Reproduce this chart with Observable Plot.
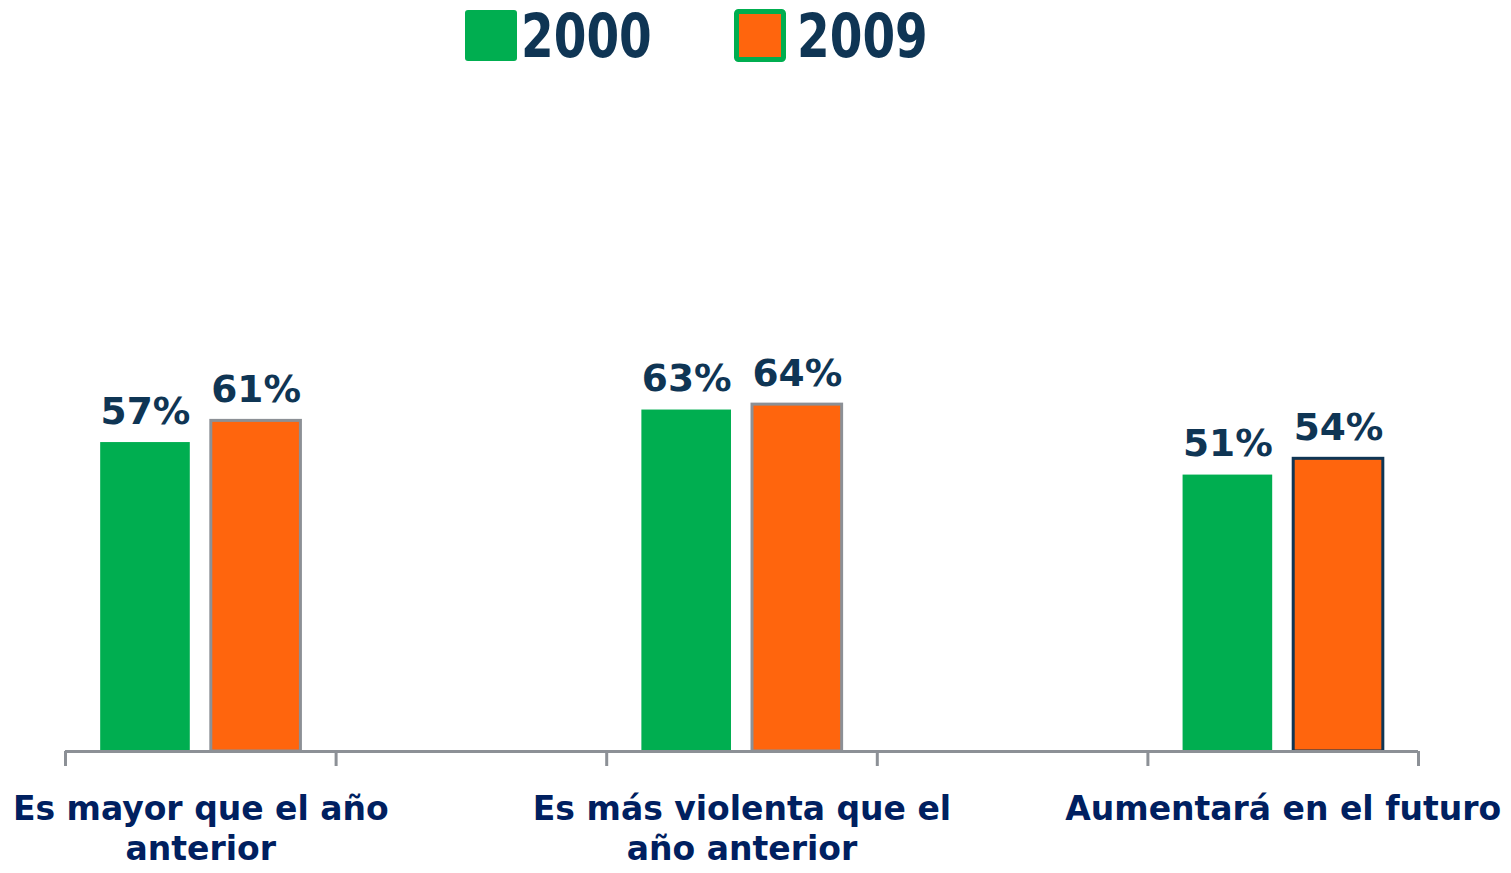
<!DOCTYPE html>
<html>
<head>
<meta charset="utf-8">
<script src="https://cdn.jsdelivr.net/npm/d3@7"></script>
<script src="https://cdn.jsdelivr.net/npm/@observablehq/plot@0.6"></script>
<style>
  html, body { margin: 0; padding: 0; background: #ffffff; }
  body { width: 1511px; height: 873px; overflow: hidden; font-family: "DejaVu Sans", sans-serif; }
  #legend, #chart { display: block; }
</style>
</head>
<body>
<div id="legend"></div>
<div id="chart"></div>
<script>
// ---- data ----
const categories = ["Es mayor que el año\nanterior", "Es más violenta que el\naño anterior", "Aumentará en el futuro"];
const series = ["2000", "2009"];
const values2000 = [57, 63, 51];
const values2009 = [61, 64, 54];

// ---- styles ----
const GREEN = "#00AE50";
const ORANGE = "#FF650D";
const VALUE_TEXT = "#0F3554";
const CAT_TEXT = "#002060";
const AXIS = "#8C9096";
const seriesFill = {"2000": GREEN, "2009": ORANGE};
const orangeOutline = [AXIS, AXIS, VALUE_TEXT];

const rows = categories.flatMap((cat, i) => [
  {cat, i, series: "2000", value: values2000[i]},
  {cat, i, series: "2009", value: values2009[i]}
]);

// layout inside each category band (fraction of a category)
const inner = d3.scaleBand().domain(series).range([0.065, 0.435]).paddingInner(0.19);
const bx1 = d => d.i - 0.5 + inner(d.series);
const bx2 = d => bx1(d) + inner.bandwidth();
const bxc = d => bx1(d) + inner.bandwidth() / 2;
const groupCenter = i => i - 0.5 + 0.25;
const tickValues = d3.range(-0.5, categories.length - 1 + 0.01, 0.5);

// ---- legend (above the chart) ----
const lg = d3.select("#legend").append("svg")
  .attr("width", 1511).attr("height", 72).style("display", "block");
lg.append("rect").attr("x", 465).attr("y", 10).attr("width", 52).attr("height", 51)
  .attr("rx", 3).attr("fill", GREEN);
lg.append("rect").attr("x", 736.5).attr("y", 11.5).attr("width", 47).attr("height", 48)
  .attr("rx", 2).attr("fill", ORANGE).attr("stroke", GREEN).attr("stroke-width", 5);
[[series[0], 521], [series[1], 797]].forEach(([t, x]) => {
  lg.append("text").attr("transform", `translate(${x},57) scale(1,1.3)`)
    .attr("font-family", "DejaVu Sans").attr("font-weight", "bold").attr("font-size", 47)
    .attr("fill", VALUE_TEXT).text(t);
});

// ---- chart ----
const chart = Plot.plot({
  width: 1511,
  height: 801,
  marginLeft: 65,
  marginRight: 93,
  marginTop: 137,
  marginBottom: 122,
  x: {domain: [-0.5, categories.length - 1], axis: null},
  y: {domain: [0, 100], axis: null},
  color: {type: "identity"},
  style: {fontFamily: "DejaVu Sans", background: "white", overflow: "visible"},
  marks: [
    Plot.rectY(rows.filter(d => d.series === "2000"), {
      x1: bx1, x2: bx2, y1: 0, y2: "value", fill: d => seriesFill[d.series]
    }),
    Plot.rectY(rows.filter(d => d.series === "2009"), {
      x1: bx1, x2: bx2, y1: 0, y2: "value", fill: d => seriesFill[d.series],
      stroke: d => orangeOutline[d.i], strokeWidth: 3
    }),
    Plot.ruleY([0], {stroke: AXIS, strokeWidth: 3}),
    Plot.axisX(tickValues, {tickSize: 15, tickFormat: () => "", label: null, stroke: AXIS, strokeWidth: 3}),
    Plot.text(rows, {
      x: bxc, y: "value", text: d => d.value + "%",
      lineAnchor: "bottom", dy: -19,
      fontSize: 37.5, fontWeight: "bold", fill: VALUE_TEXT
    }),
    Plot.text(categories, {
      x: (d, i) => groupCenter(i), y: 0, text: d => d,
      lineAnchor: "top", dy: 40, lineHeight: 1.22,
      fontSize: 33, fontWeight: "bold", fill: CAT_TEXT
    })
  ]
});
document.getElementById("chart").appendChild(chart);
</script>
</body>
</html>
